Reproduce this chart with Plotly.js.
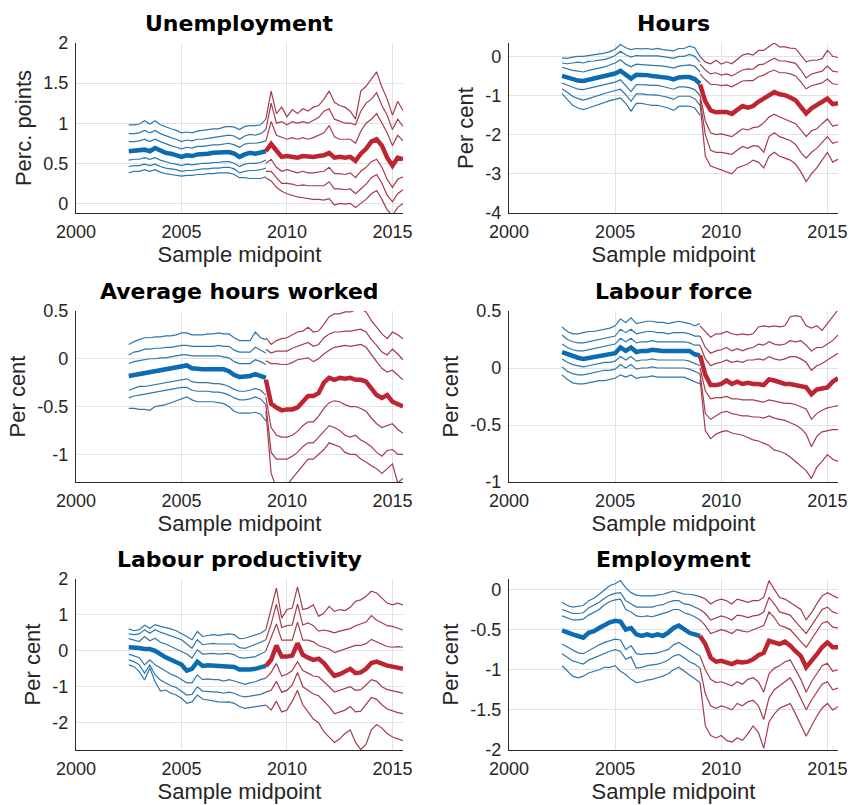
<!DOCTYPE html>
<html>
<head>
<meta charset="utf-8">
<script src="https://cdn.plot.ly/plotly-3.0.1.min.js"></script>
<style>html,body{margin:0;padding:0;background:#fff}</style>
</head>
<body>
<div id="chart" style="width:850px;height:805px"></div>
<script>
// Sample midpoints (quarterly) for the pre-crisis and post-crisis windows
const xPre  = [2002.5,2002.75,2003,2003.25,2003.5,2003.75,2004,2004.25,2004.5,2004.75,2005,2005.25,2005.5,2005.75,2006,2006.25,2006.5,2006.75,2007,2007.25,2007.5,2007.75,2008,2008.25,2008.5,2008.75,2009];
const xPost = [2009,2009.25,2009.5,2009.75,2010,2010.25,2010.5,2010.75,2011,2011.25,2011.5,2011.75,2012,2012.25,2012.5,2012.75,2013,2013.25,2013.5,2013.75,2014,2014.25,2014.5,2014.75,2015,2015.25,2015.5];

// Each block: 7 percentile lines, from the highest band to the lowest; row 4 is the median
const unemploymentPre = [
  [.98,.98,.99,1.03,.99,1.03,.98,.95,.93,.91,.88,.89,.88,.90,.91,.92,.93,.93,.95,.96,.95,.92,.96,.97,.97,.98,1.05],
  [.87,.87,.88,.91,.88,.91,.87,.84,.82,.80,.77,.79,.78,.80,.80,.81,.82,.83,.84,.85,.84,.80,.84,.86,.85,.87,.92],
  [.77,.77,.78,.80,.77,.80,.77,.74,.72,.70,.68,.70,.69,.71,.71,.72,.73,.73,.74,.75,.73,.70,.74,.75,.75,.76,.78],
  [.65,.66,.66,.67,.65,.69,.66,.63,.62,.60,.58,.60,.59,.61,.61,.62,.63,.63,.64,.64,.62,.58,.61,.63,.62,.64,.65],
  [.54,.55,.55,.57,.55,.57,.54,.52,.50,.49,.47,.49,.48,.49,.50,.50,.51,.51,.52,.52,.50,.46,.49,.50,.50,.51,.54],
  [.46,.47,.47,.49,.47,.49,.46,.44,.43,.42,.40,.41,.41,.42,.43,.43,.44,.44,.45,.45,.43,.38,.40,.41,.41,.42,.44],
  [.38,.40,.40,.42,.40,.42,.39,.37,.36,.35,.34,.35,.35,.36,.36,.37,.37,.38,.38,.38,.36,.32,.32,.31,.31,.31,.33]
];
const unemploymentPost = [
  [1.05,1.40,1.12,1.20,1.08,1.17,1.12,1.18,1.15,1.20,1.22,1.30,1.40,1.26,1.22,1.20,1.15,1.05,1.40,1.46,1.55,1.64,1.45,1.30,1.10,1.27,1.16],
  [.92,1.25,1.00,1.02,.98,1.02,1.00,1.02,1.00,1.04,1.07,1.15,1.18,1.05,1.02,1.00,1.00,.98,1.15,1.25,1.30,1.38,1.22,1.10,.92,1.05,.96],
  [.78,1.02,.85,.82,.80,.82,.80,.82,.80,.82,.85,.88,.97,.83,.80,.80,.80,.75,.90,1.00,1.05,1.12,1.00,.88,.72,.85,.78],
  [.65,.74,.66,.58,.59,.58,.57,.59,.58,.58,.59,.60,.63,.57,.58,.57,.58,.53,.62,.68,.77,.80,.72,.57,.47,.57,.55],
  [.50,.55,.45,.40,.42,.40,.38,.40,.38,.38,.39,.40,.45,.37,.37,.36,.38,.32,.40,.45,.52,.55,.45,.30,.20,.30,.33],
  [.40,.40,.32,.25,.25,.24,.22,.23,.22,.22,.22,.22,.27,.18,.18,.17,.18,.12,.18,.24,.32,.36,.25,.10,.02,.12,.17],
  [.32,.28,.20,.15,.12,.10,.08,.07,.06,.05,.05,.04,.06,-.02,.0,-.01,.0,-.05,.0,.05,.12,.16,.05,-.08,-.15,-.05,.0]
];

const hoursPre = [
  [-0.04,-0.05,-0.02,0.0,0.0,0.02,0.03,0.05,0.08,0.12,0.18,0.30,0.22,0.17,0.20,0.19,0.20,0.18,0.20,0.17,0.15,0.14,0.20,0.20,0.26,0.22,0.0],
  [-0.17,-0.19,-0.17,-0.15,-0.17,-0.13,-0.12,-0.10,-0.08,-0.04,0.02,0.13,0.04,-0.02,0.02,0.01,0.01,0.0,0.01,-0.01,-0.03,-0.05,0.0,0.0,0.05,0.0,-0.15],
  [-0.28,-0.33,-0.36,-0.38,-0.40,-0.36,-0.33,-0.30,-0.27,-0.22,-0.17,-0.09,-0.20,-0.27,-0.20,-0.21,-0.22,-0.23,-0.23,-0.25,-0.27,-0.30,-0.25,-0.24,-0.22,-0.25,-0.40],
  [-0.50,-0.55,-0.59,-0.62,-0.63,-0.60,-0.57,-0.54,-0.51,-0.48,-0.44,-0.37,-0.47,-0.57,-0.47,-0.47,-0.48,-0.50,-0.51,-0.53,-0.55,-0.59,-0.54,-0.53,-0.53,-0.58,-0.70],
  [-0.68,-0.74,-0.80,-0.84,-0.85,-0.82,-0.78,-0.75,-0.72,-0.69,-0.66,-0.60,-0.75,-0.90,-0.72,-0.72,-0.73,-0.74,-0.74,-0.77,-0.80,-0.84,-0.78,-0.78,-0.80,-0.85,-1.0],
  [-0.83,-0.92,-1.02,-1.08,-1.12,-1.08,-1.03,-0.99,-0.95,-0.91,-0.88,-0.84,-0.98,-1.15,-0.96,-0.96,-0.98,-0.99,-0.99,-1.02,-1.05,-1.10,-1.02,-1.02,-1.02,-1.08,-1.25],
  [-0.95,-1.10,-1.25,-1.32,-1.36,-1.32,-1.27,-1.22,-1.18,-1.13,-1.10,-1.06,-1.20,-1.40,-1.20,-1.20,-1.23,-1.25,-1.25,-1.28,-1.32,-1.38,-1.28,-1.27,-1.27,-1.32,-1.50]
];
const hoursPost = [
  [0.0,-0.15,-0.19,-0.10,-0.20,-0.14,-0.19,-0.08,0.03,0.07,0.03,0.15,0.15,0.25,0.34,0.24,0.24,0.21,0.20,0.03,-0.14,-0.10,-0.10,-0.06,0.15,0.0,-0.03],
  [-0.20,-0.35,-0.45,-0.42,-0.48,-0.45,-0.50,-0.42,-0.35,-0.32,-0.33,-0.22,-0.20,-0.12,-0.05,-0.12,-0.12,-0.15,-0.18,-0.35,-0.55,-0.45,-0.42,-0.38,-0.25,-0.38,-0.40],
  [-0.45,-0.60,-0.72,-0.72,-0.75,-0.73,-0.78,-0.70,-0.63,-0.62,-0.62,-0.52,-0.48,-0.40,-0.35,-0.42,-0.42,-0.45,-0.50,-0.65,-0.83,-0.75,-0.72,-0.68,-0.58,-0.70,-0.72],
  [-0.72,-1.15,-1.38,-1.43,-1.42,-1.42,-1.47,-1.38,-1.27,-1.31,-1.27,-1.16,-1.08,-0.97,-0.91,-0.97,-0.99,-1.05,-1.12,-1.29,-1.46,-1.33,-1.25,-1.16,-1.08,-1.22,-1.20],
  [-1.0,-1.65,-1.95,-2.0,-1.98,-2.02,-2.05,-1.95,-1.85,-1.88,-1.82,-1.80,-1.70,-1.55,-1.48,-1.55,-1.60,-1.65,-1.72,-1.88,-2.05,-1.90,-1.85,-1.72,-1.60,-1.78,-1.75],
  [-1.1,-2.0,-2.40,-2.45,-2.45,-2.48,-2.50,-2.40,-2.30,-2.35,-2.28,-2.30,-2.45,-2.05,-1.95,-2.05,-2.10,-2.15,-2.25,-2.45,-2.60,-2.45,-2.35,-2.20,-2.05,-2.22,-2.18],
  [-1.2,-2.55,-2.80,-2.85,-2.92,-2.95,-3.0,-2.85,-2.80,-2.75,-2.65,-2.70,-2.85,-2.55,-2.45,-2.55,-2.60,-2.65,-2.75,-2.95,-3.20,-3.0,-2.85,-2.65,-2.45,-2.70,-2.63]
];

const avgHoursPre = [
  [0.15,0.18,0.20,0.22,0.22,0.23,0.23,0.24,0.24,0.25,0.27,0.27,0.25,0.25,0.25,0.26,0.26,0.27,0.26,0.26,0.22,0.19,0.19,0.19,0.28,0.22,0.20],
  [0.04,0.07,0.08,0.10,0.10,0.11,0.11,0.12,0.12,0.13,0.14,0.14,0.13,0.13,0.13,0.13,0.13,0.14,0.13,0.13,0.09,0.07,0.07,0.07,0.12,0.09,0.06],
  [-0.05,-0.03,-0.02,-0.01,0.0,0.0,0.01,0.01,0.02,0.03,0.04,0.04,0.03,0.03,0.03,0.03,0.03,0.03,0.02,0.01,-0.03,-0.05,-0.05,-0.05,-0.01,-0.03,-0.06],
  [-0.18,-0.17,-0.16,-0.15,-0.14,-0.14,-0.13,-0.12,-0.11,-0.10,-0.08,-0.07,-0.10,-0.11,-0.11,-0.11,-0.11,-0.11,-0.11,-0.13,-0.17,-0.19,-0.19,-0.18,-0.16,-0.18,-0.20],
  [-0.33,-0.31,-0.29,-0.29,-0.28,-0.27,-0.26,-0.25,-0.24,-0.23,-0.22,-0.21,-0.24,-0.25,-0.25,-0.25,-0.26,-0.26,-0.27,-0.29,-0.32,-0.34,-0.34,-0.33,-0.31,-0.33,-0.38],
  [-0.41,-0.39,-0.38,-0.37,-0.36,-0.35,-0.34,-0.33,-0.32,-0.31,-0.30,-0.30,-0.33,-0.34,-0.34,-0.34,-0.35,-0.35,-0.36,-0.38,-0.41,-0.43,-0.43,-0.42,-0.40,-0.42,-0.48],
  [-0.52,-0.52,-0.53,-0.53,-0.54,-0.50,-0.49,-0.48,-0.46,-0.44,-0.42,-0.40,-0.43,-0.45,-0.45,-0.45,-0.45,-0.46,-0.47,-0.50,-0.55,-0.57,-0.57,-0.57,-0.56,-0.58,-0.65]
];
const avgHoursPost = [
  [0.22,0.15,0.19,0.21,0.22,0.25,0.28,0.29,0.33,0.28,0.29,0.36,0.44,0.47,0.47,0.49,0.49,0.51,0.52,0.49,0.40,0.33,0.26,0.21,0.28,0.25,0.21],
  [0.10,0.06,0.08,0.08,0.08,0.11,0.13,0.15,0.17,0.13,0.15,0.22,0.26,0.28,0.28,0.29,0.29,0.30,0.31,0.28,0.20,0.14,0.07,0.04,0.10,0.05,-0.01],
  [-0.02,-0.05,-0.05,-0.06,-0.06,-0.04,-0.01,0.0,0.01,-0.03,0.0,0.05,0.09,0.12,0.13,0.14,0.13,0.14,0.15,0.12,0.04,-0.03,-0.10,-0.14,-0.12,-0.17,-0.22],
  [-0.22,-0.47,-0.51,-0.54,-0.53,-0.53,-0.51,-0.45,-0.39,-0.39,-0.36,-0.25,-0.20,-0.22,-0.20,-0.21,-0.20,-0.22,-0.22,-0.24,-0.31,-0.38,-0.41,-0.38,-0.45,-0.47,-0.50],
  [-0.40,-0.72,-0.80,-0.82,-0.82,-0.80,-0.76,-0.70,-0.66,-0.66,-0.60,-0.52,-0.46,-0.44,-0.45,-0.48,-0.50,-0.50,-0.52,-0.55,-0.62,-0.68,-0.72,-0.70,-0.68,-0.74,-0.78],
  [-0.48,-0.98,-1.05,-1.05,-1.05,-1.02,-0.98,-0.92,-0.88,-0.88,-0.82,-0.76,-0.70,-0.72,-0.75,-0.80,-0.82,-0.80,-0.85,-0.88,-0.92,-0.98,-1.02,-0.96,-0.95,-1.00,-1.00],
  [-0.55,-1.20,-1.35,-1.38,-1.32,-1.25,-1.18,-1.12,-1.05,-1.05,-1.00,-0.95,-0.88,-0.90,-0.92,-0.98,-1.00,-1.00,-1.05,-1.08,-1.12,-1.15,-1.20,-1.15,-1.10,-1.30,-1.25]
];

const labourForcePre = [
  [0.36,0.32,0.30,0.30,0.31,0.32,0.32,0.33,0.34,0.35,0.37,0.43,0.40,0.44,0.39,0.40,0.41,0.41,0.40,0.40,0.39,0.40,0.41,0.40,0.39,0.37,0.39],
  [0.29,0.25,0.23,0.22,0.22,0.23,0.24,0.25,0.26,0.27,0.28,0.34,0.31,0.34,0.30,0.31,0.32,0.32,0.31,0.31,0.30,0.31,0.31,0.31,0.30,0.28,0.28],
  [0.21,0.18,0.16,0.15,0.15,0.16,0.17,0.18,0.19,0.20,0.21,0.26,0.23,0.26,0.22,0.23,0.23,0.24,0.23,0.23,0.23,0.23,0.23,0.23,0.22,0.20,0.20],
  [0.14,0.12,0.10,0.09,0.08,0.09,0.10,0.11,0.12,0.12,0.13,0.18,0.15,0.18,0.14,0.15,0.15,0.16,0.15,0.15,0.15,0.15,0.15,0.15,0.15,0.12,0.11],
  [0.08,0.05,0.03,0.02,0.01,0.02,0.03,0.04,0.05,0.05,0.06,0.10,0.07,0.10,0.06,0.07,0.07,0.08,0.07,0.07,0.07,0.07,0.07,0.07,0.06,0.04,0.02],
  [0.01,-0.03,-0.05,-0.06,-0.06,-0.05,-0.04,-0.03,-0.02,-0.02,-0.01,0.03,0.0,0.03,-0.01,0.0,0.0,0.01,0.0,0.0,0.0,0.0,0.0,0.0,-0.01,-0.03,-0.05],
  [-0.06,-0.10,-0.13,-0.14,-0.14,-0.13,-0.12,-0.11,-0.11,-0.10,-0.09,-0.06,-0.08,-0.06,-0.09,-0.08,-0.08,-0.07,-0.08,-0.08,-0.08,-0.08,-0.08,-0.08,-0.10,-0.12,-0.14]
];
const labourForcePost = [
  [0.37,0.32,0.27,0.30,0.30,0.32,0.30,0.29,0.30,0.29,0.30,0.36,0.37,0.36,0.37,0.36,0.37,0.45,0.46,0.45,0.37,0.35,0.37,0.33,0.39,0.45,0.51],
  [0.28,0.18,0.13,0.15,0.16,0.18,0.15,0.17,0.15,0.17,0.18,0.21,0.20,0.23,0.21,0.20,0.21,0.24,0.23,0.24,0.20,0.15,0.18,0.18,0.21,0.24,0.29],
  [0.20,0.08,0.02,0.04,0.05,0.07,0.05,0.06,0.05,0.07,0.07,0.08,0.07,0.10,0.08,0.07,0.08,0.10,0.10,0.08,0.05,-0.02,0.02,0.04,0.07,0.10,0.13],
  [0.11,-0.06,-0.15,-0.15,-0.14,-0.11,-0.14,-0.12,-0.14,-0.13,-0.14,-0.14,-0.15,-0.10,-0.11,-0.13,-0.14,-0.14,-0.15,-0.16,-0.17,-0.23,-0.19,-0.18,-0.17,-0.12,-0.09],
  [0.0,-0.20,-0.27,-0.26,-0.26,-0.25,-0.27,-0.27,-0.28,-0.28,-0.28,-0.29,-0.30,-0.28,-0.29,-0.30,-0.31,-0.31,-0.32,-0.34,-0.36,-0.45,-0.40,-0.37,-0.35,-0.34,-0.33],
  [-0.05,-0.40,-0.45,-0.42,-0.39,-0.38,-0.40,-0.41,-0.42,-0.42,-0.43,-0.43,-0.44,-0.42,-0.44,-0.45,-0.46,-0.48,-0.50,-0.53,-0.58,-0.69,-0.60,-0.56,-0.55,-0.54,-0.54],
  [-0.10,-0.55,-0.62,-0.58,-0.56,-0.55,-0.57,-0.58,-0.59,-0.61,-0.63,-0.64,-0.66,-0.68,-0.72,-0.73,-0.75,-0.78,-0.82,-0.86,-0.90,-0.97,-0.87,-0.82,-0.76,-0.80,-0.82]
];

const productivityPre = [
  [0.61,0.56,0.59,0.71,0.63,0.73,0.68,0.65,0.61,0.56,0.49,0.40,0.31,0.54,0.40,0.42,0.45,0.43,0.45,0.47,0.45,0.34,0.35,0.40,0.45,0.49,0.59],
  [0.47,0.45,0.47,0.59,0.49,0.59,0.52,0.47,0.43,0.37,0.31,0.19,0.07,0.31,0.17,0.19,0.21,0.19,0.19,0.21,0.19,0.09,0.07,0.12,0.17,0.24,0.31],
  [0.34,0.31,0.26,0.40,0.28,0.35,0.24,0.19,0.12,0.07,0.0,-0.09,-0.20,0.03,-0.09,-0.07,-0.07,-0.09,-0.09,-0.07,-0.11,-0.19,-0.20,-0.19,-0.16,-0.09,-0.02],
  [0.10,0.10,0.08,0.05,0.05,0.0,-0.10,-0.18,-0.25,-0.30,-0.38,-0.55,-0.50,-0.30,-0.42,-0.40,-0.41,-0.42,-0.42,-0.42,-0.45,-0.52,-0.53,-0.52,-0.50,-0.47,-0.42],
  [-0.09,-0.13,-0.19,-0.39,-0.25,-0.39,-0.48,-0.58,-0.65,-0.71,-0.80,-0.89,-0.89,-0.67,-0.80,-0.78,-0.80,-0.80,-0.84,-0.80,-0.84,-0.89,-0.93,-0.89,-0.86,-0.80,-0.76],
  [-0.25,-0.30,-0.39,-0.62,-0.39,-0.67,-0.81,-0.90,-0.97,-1.02,-1.12,-1.23,-1.21,-1.0,-1.12,-1.12,-1.14,-1.15,-1.18,-1.15,-1.18,-1.25,-1.28,-1.26,-1.23,-1.21,-1.15],
  [-0.39,-0.44,-0.58,-0.81,-0.48,-0.86,-1.12,-1.09,-1.18,-1.23,-1.32,-1.46,-1.42,-1.23,-1.34,-1.37,-1.40,-1.42,-1.43,-1.42,-1.46,-1.55,-1.60,-1.58,-1.55,-1.53,-1.51]
];
const productivityPost = [
  [0.59,1.19,1.75,0.91,1.15,1.19,1.78,1.15,1.19,1.28,0.96,1.05,1.24,1.10,1.15,1.12,1.21,1.38,1.42,1.52,1.66,1.61,1.47,1.33,1.28,1.33,1.28],
  [0.31,0.75,1.30,0.65,0.70,0.72,1.30,0.72,0.78,0.70,0.55,0.58,0.55,0.50,0.55,0.58,0.62,0.70,0.75,0.80,0.98,0.85,0.78,0.70,0.68,0.62,0.58],
  [0.0,0.35,0.75,0.30,0.30,0.30,0.80,0.30,0.30,0.25,0.15,0.10,0.05,-0.05,0.0,0.05,0.10,0.15,0.15,0.20,0.32,0.25,0.18,0.12,0.10,0.12,0.10],
  [-0.42,-0.25,0.15,-0.16,-0.16,-0.13,0.21,-0.11,-0.19,-0.25,-0.22,-0.34,-0.53,-0.70,-0.65,-0.58,-0.50,-0.62,-0.60,-0.50,-0.34,-0.30,-0.37,-0.41,-0.44,-0.48,-0.50],
  [-0.76,-0.60,-0.35,-0.70,-0.65,-0.55,-0.30,-0.55,-0.62,-0.70,-0.72,-0.85,-1.00,-1.15,-1.10,-1.05,-1.00,-1.10,-1.08,-0.95,-0.80,-0.85,-1.00,-1.08,-1.12,-1.15,-1.18],
  [-1.15,-1.10,-0.85,-1.15,-1.10,-0.95,-0.60,-1.00,-1.10,-1.20,-1.25,-1.40,-1.55,-1.75,-1.70,-1.65,-1.55,-1.70,-1.68,-1.50,-1.30,-1.35,-1.50,-1.62,-1.68,-1.72,-1.75],
  [-1.51,-1.65,-1.40,-1.70,-1.65,-1.40,-1.10,-1.50,-1.70,-1.90,-2.00,-2.25,-2.40,-2.55,-2.45,-2.30,-2.20,-2.55,-2.75,-2.60,-2.20,-2.05,-2.15,-2.30,-2.40,-2.45,-2.50]
];

const employmentPre = [
  [-0.16,-0.20,-0.22,-0.21,-0.20,-0.14,-0.11,-0.06,0.0,0.05,0.07,0.11,0.02,-0.04,-0.07,-0.08,-0.08,-0.08,-0.07,-0.06,-0.04,-0.02,-0.04,-0.06,-0.06,-0.07,-0.09],
  [-0.25,-0.28,-0.30,-0.30,-0.29,-0.23,-0.20,-0.16,-0.11,-0.07,-0.05,-0.04,-0.14,-0.18,-0.22,-0.22,-0.22,-0.22,-0.20,-0.19,-0.16,-0.14,-0.14,-0.18,-0.19,-0.22,-0.25],
  [-0.33,-0.36,-0.38,-0.38,-0.37,-0.32,-0.29,-0.25,-0.19,-0.15,-0.13,-0.12,-0.25,-0.28,-0.33,-0.34,-0.33,-0.34,-0.32,-0.30,-0.28,-0.25,-0.25,-0.29,-0.31,-0.34,-0.38],
  [-0.51,-0.54,-0.56,-0.58,-0.60,-0.54,-0.52,-0.48,-0.44,-0.41,-0.39,-0.40,-0.50,-0.48,-0.56,-0.58,-0.56,-0.58,-0.56,-0.58,-0.54,-0.48,-0.45,-0.50,-0.54,-0.56,-0.58],
  [-0.68,-0.72,-0.76,-0.79,-0.80,-0.76,-0.73,-0.69,-0.66,-0.64,-0.62,-0.63,-0.75,-0.70,-0.80,-0.81,-0.80,-0.80,-0.79,-0.77,-0.75,-0.69,-0.66,-0.70,-0.75,-0.79,-0.83],
  [-0.80,-0.84,-0.89,-0.91,-0.93,-0.88,-0.85,-0.82,-0.79,-0.77,-0.75,-0.77,-0.87,-0.84,-0.98,-0.97,-0.95,-0.94,-0.93,-0.91,-0.88,-0.83,-0.81,-0.85,-0.90,-0.93,-0.98],
  [-0.95,-1.02,-1.08,-1.10,-1.08,-1.04,-1.02,-1.00,-0.97,-0.97,-0.95,-1.02,-1.06,-1.12,-1.16,-1.15,-1.13,-1.12,-1.10,-1.08,-1.05,-1.00,-0.97,-1.02,-1.06,-1.12,-1.16]
];
const employmentPost = [
  [-0.09,-0.12,-0.18,-0.14,-0.12,-0.14,-0.18,-0.12,-0.14,-0.16,-0.14,-0.14,-0.10,0.11,0.0,-0.10,-0.12,-0.16,-0.20,-0.25,-0.38,-0.29,-0.18,-0.08,-0.04,-0.08,-0.11],
  [-0.25,-0.30,-0.38,-0.35,-0.33,-0.35,-0.38,-0.32,-0.33,-0.35,-0.33,-0.32,-0.28,-0.10,-0.18,-0.28,-0.30,-0.32,-0.40,-0.48,-0.55,-0.45,-0.35,-0.25,-0.22,-0.28,-0.30],
  [-0.38,-0.45,-0.55,-0.52,-0.50,-0.52,-0.55,-0.50,-0.52,-0.53,-0.50,-0.48,-0.45,-0.28,-0.35,-0.45,-0.47,-0.50,-0.58,-0.65,-0.72,-0.62,-0.52,-0.42,-0.40,-0.47,-0.48],
  [-0.58,-0.68,-0.85,-0.90,-0.89,-0.91,-0.93,-0.90,-0.91,-0.90,-0.87,-0.82,-0.79,-0.64,-0.66,-0.68,-0.65,-0.70,-0.77,-0.83,-0.97,-0.90,-0.81,-0.72,-0.66,-0.72,-0.72],
  [-0.83,-1.00,-1.12,-1.16,-1.15,-1.18,-1.20,-1.15,-1.18,-1.12,-1.10,-1.15,-1.28,-1.05,-0.98,-0.95,-0.90,-0.88,-1.00,-1.12,-1.28,-1.15,-1.05,-0.95,-0.92,-1.02,-1.00],
  [-0.98,-1.30,-1.45,-1.48,-1.45,-1.47,-1.50,-1.42,-1.45,-1.40,-1.38,-1.45,-1.62,-1.35,-1.25,-1.20,-1.15,-1.10,-1.22,-1.35,-1.50,-1.38,-1.28,-1.18,-1.15,-1.25,-1.23],
  [-1.16,-1.70,-1.82,-1.85,-1.82,-1.88,-1.90,-1.85,-1.88,-1.80,-1.70,-1.78,-1.98,-1.65,-1.55,-1.48,-1.45,-1.42,-1.55,-1.68,-1.83,-1.70,-1.58,-1.48,-1.42,-1.50,-1.46]
];

// Tick positions and labels
const xTickVals = [2000, 2005, 2010, 2015];
const xTickText = ['2000', '2005', '2010', '2015'];
const unemploymentTicks = [0, 0.5, 1, 1.5, 2];
const unemploymentTickText = ['0', '0.5', '1', '1.5', '2'];
const hoursTicks = [-4, -3, -2, -1, 0];
const hoursTickText = ['-4', '-3', '-2', '-1', '0'];
const halfStepTicks = [-1, -0.5, 0, 0.5];
const halfStepTickText = ['-1', '-0.5', '0', '0.5'];
const productivityTicks = [-2, -1, 0, 1, 2];
const productivityTickText = ['-2', '-1', '0', '1', '2'];
const employmentTicks = [-2, -1.5, -1, -0.5, 0];
const employmentTickText = ['-2', '-1.5', '-1', '-0.5', '0'];

const panelTitles = ['Unemployment', 'Hours', 'Average hours worked', 'Labour force', 'Labour productivity', 'Employment'];
const panelUnits  = ['Perc. points', 'Per cent', 'Per cent', 'Per cent', 'Per cent', 'Per cent'];

const panels = [
  { pre: unemploymentPre, post: unemploymentPost, range: [-0.12, 2],    tv: unemploymentTicks, tt: unemploymentTickText },
  { pre: hoursPre,        post: hoursPost,        range: [-4, 0.34],    tv: hoursTicks,        tt: hoursTickText },
  { pre: avgHoursPre,     post: avgHoursPost,     range: [-1.29, 0.5],  tv: halfStepTicks,     tt: halfStepTickText },
  { pre: labourForcePre,  post: labourForcePost,  range: [-1, 0.5],     tv: halfStepTicks,     tt: halfStepTickText },
  { pre: productivityPre, post: productivityPost, range: [-2.76, 2],    tv: productivityTicks, tt: productivityTickText },
  { pre: employmentPre,   post: employmentPost,   range: [-2, 0.13],    tv: employmentTicks,   tt: employmentTickText }
];

// Page geometry (pixels) of the six plotting boxes
const W = 850, H = 805;
const colX = [[76, 403], [509, 838]];
const rowY = [[43, 213], [311, 482], [579, 750]];

const BLUE_BAND = '#2c77ad', BLUE_MED = '#0b6cb2';
const RED_BAND = '#a53b4d',  RED_MED = '#bf2431';
const FONT = 'Helvetica, Arial, "Liberation Sans", sans-serif';

const traces = [];
const medians = [];
const layout = {
  width: W, height: H,
  margin: { l: 0, r: 0, t: 0, b: 0 },
  paper_bgcolor: '#fff', plot_bgcolor: '#fff',
  showlegend: false, hovermode: false,
  font: { family: FONT, color: '#262626' },
  annotations: []
};

panels.forEach((p, k) => {
  const n = k + 1;
  const xa = 'x' + (n === 1 ? '' : n), ya = 'y' + (n === 1 ? '' : n);
  const col = colX[k % 2], row = rowY[Math.floor(k / 2)];
  const xd = [col[0] / W, col[1] / W];
  const yd = [1 - row[1] / H, 1 - row[0] / H];

  [[p.pre, xPre, BLUE_BAND, BLUE_MED], [p.post, xPost, RED_BAND, RED_MED]].forEach(([rows, xs, band, med]) => {
    rows.forEach((ys, r) => {
      const isMed = r === 3;
      const tr = {
        type: 'scatter', mode: 'lines', x: xs, y: ys, xaxis: xa, yaxis: ya,
        line: { color: isMed ? med : band, width: isMed ? 4.5 : 1.2 },
        hoverinfo: 'skip'
      };
      (isMed ? medians : traces).push(tr);
    });
  });

  const axisCommon = {
    showgrid: true, gridcolor: '#e2e2e2', gridwidth: 1,
    showline: true, linecolor: '#2b2b2b', linewidth: 1.2,
    zeroline: false, ticks: '', fixedrange: true,
    tickfont: { size: 18, color: '#262626', family: FONT }
  };
  layout['xaxis' + (n === 1 ? '' : n)] = Object.assign({}, axisCommon, {
    domain: xd, anchor: ya, range: [2000, 2015.5],
    tickmode: 'array', tickvals: xTickVals, ticktext: xTickText,
    ticklabelstandoff: 2,
    title: { text: 'Sample midpoint', font: { size: 22, color: '#262626', family: FONT }, standoff: 2 }
  });
  layout['yaxis' + (n === 1 ? '' : n)] = Object.assign({}, axisCommon, {
    domain: yd, anchor: xa, range: p.range,
    tickmode: 'array', tickvals: p.tv, ticktext: p.tt,
    ticklabelstandoff: 3,
    title: { text: panelUnits[k], font: { size: 22, color: '#262626', family: FONT }, standoff: 5 }
  });

  layout.annotations.push({
    xref: 'paper', yref: 'paper',
    x: (xd[0] + xd[1]) / 2, y: 1 - (row[0] - 20) / H,
    xanchor: 'center', yanchor: 'middle', showarrow: false,
    text: '<b>' + panelTitles[k] + '</b>',
    font: { family: '"DejaVu Sans", Arial, sans-serif', size: 22, color: '#000' }
  });
});

Plotly.newPlot('chart', traces.concat(medians), layout, { staticPlot: true, displayModeBar: false });
</script>
</body>
</html>
